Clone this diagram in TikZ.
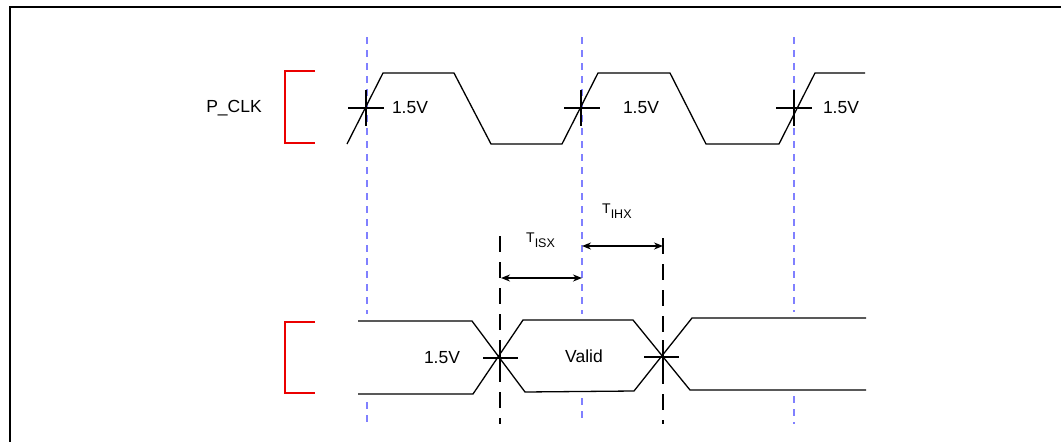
\documentclass[tikz,border=0pt]{standalone}
\usepackage{fontspec}
\setmainfont{Liberation Sans}
\usetikzlibrary{arrows.meta}
\definecolor{guideblue}{RGB}{128,128,255}
\definecolor{bracketred}{RGB}{235,0,0}
\newcommand{\mainsize}{\fontsize{17.5}{21}\selectfont}
\newcommand{\tlabel}[1]{\fontsize{14}{16}\selectfont T\raisebox{-5pt}{\fontsize{12.5}{14}\selectfont #1}}
\begin{document}
\begin{tikzpicture}[x=1pt,y=-1pt,
  frame/.style={line width=2.4pt},
  wave/.style={line width=1.3pt, line join=miter},
  crossmark/.style={line width=2pt},
  guide/.style={draw=guideblue, line width=2.5pt, dash pattern=on 7pt off 6pt},
  limitline/.style={line width=2pt, dash pattern=on 16pt off 10pt},
  bracket/.style={draw=bracketred, line width=2pt},
  dim/.style={line width=2pt, {Stealth[length=9pt,width=7pt]}-{Stealth[length=9pt,width=7pt]}},
  lbl/.style={inner sep=0pt, font=\mainsize},
  tlbl/.style={inner sep=0pt, anchor=base west}
]
\useasboundingbox (0,0) rectangle (1061,442);
% frame (cropped)
\draw[frame] (10,442) -- (10,7) -- (1061,7);

% guide lines (hidden behind the data bus)
\coordinate (g1t) at (367,37); \coordinate (g1m) at (367,314);
\coordinate (g1n) at (367,402); \coordinate (g1b) at (367,424);
\coordinate (g2t) at (582,37); \coordinate (g2m) at (582,314);
\coordinate (g2n) at (582,398); \coordinate (g2b) at (582,424);
\coordinate (g3t) at (794,37); \coordinate (g3m) at (794,312);
\coordinate (g3n) at (794,396); \coordinate (g3b) at (794,424);
\draw[guide] (g1t) -- (g1m) (g1n) -- (g1b);
\draw[guide] (g2t) -- (g2m) (g2n) -- (g2b);
\draw[guide] (g3t) -- (g3m) (g3n) -- (g3b);

% red brackets
\draw[bracket] (315,71) -- (285,71) -- (285,143) -- (315,143);
\draw[bracket] (315,322) -- (285,322) -- (285,393) -- (315,393);

% clock
\draw[wave] (347,144) -- (383,73) -- (454,73) -- (491,144) -- (562,144) -- (598,73)
  -- (670,73) -- (706,144) -- (779,144) -- (815,73) -- (865,73);
\draw[crossmark] (348,108) -- (384,108) (366,90) -- (366,126);
\draw[crossmark] (564,108) -- (600,108) (581,90) -- (581,126);
\draw[crossmark] (776,108) -- (812,108) (794,90) -- (794,126);

% data bus
\draw[wave] (358,321) -- (472,321) -- (525,392) -- (634,391) -- (692,318) -- (866,318);
\draw[wave] (358,394) -- (473,394) -- (523,320) -- (633,320) -- (690,390) -- (866,390);
\draw[crossmark] (483,358) -- (518,358) (500,341) -- (500,375);
\draw[crossmark] (644,357) -- (679,357) (663,340) -- (663,374);

% timing limit lines
\coordinate (s1t) at (500,236); \coordinate (s1b) at (500,424);
\coordinate (s2t) at (663,238); \coordinate (s2b) at (663,424);
\draw[limitline] (s1t) -- (s1b);
\draw[limitline] (s2t) -- (s2b);

% dimension arrows
\coordinate (a1l) at (501,278); \coordinate (a1r) at (582,278);
\coordinate (a2l) at (582,246); \coordinate (a2r) at (663,246);
\draw[dim] (a1l) -- (a1r);
\draw[dim] (a2l) -- (a2r);

% labels
\node[lbl] (pclk) at (234,108) {P\_CLK};
\node[lbl] (v1) at (410,108) {1.5V};
\node[lbl] (v2) at (641,108) {1.5V};
\node[lbl] (v3) at (841,108) {1.5V};
\node[lbl] (vd) at (442,358) {1.5V};
\node[lbl] (valid) at (584,356) {Valid};
\node[tlbl] (tisx) at (526,242) {\tlabel{ISX}};
\node[tlbl] (tihx) at (602,213) {\tlabel{IHX}};
\end{tikzpicture}
\end{document}
